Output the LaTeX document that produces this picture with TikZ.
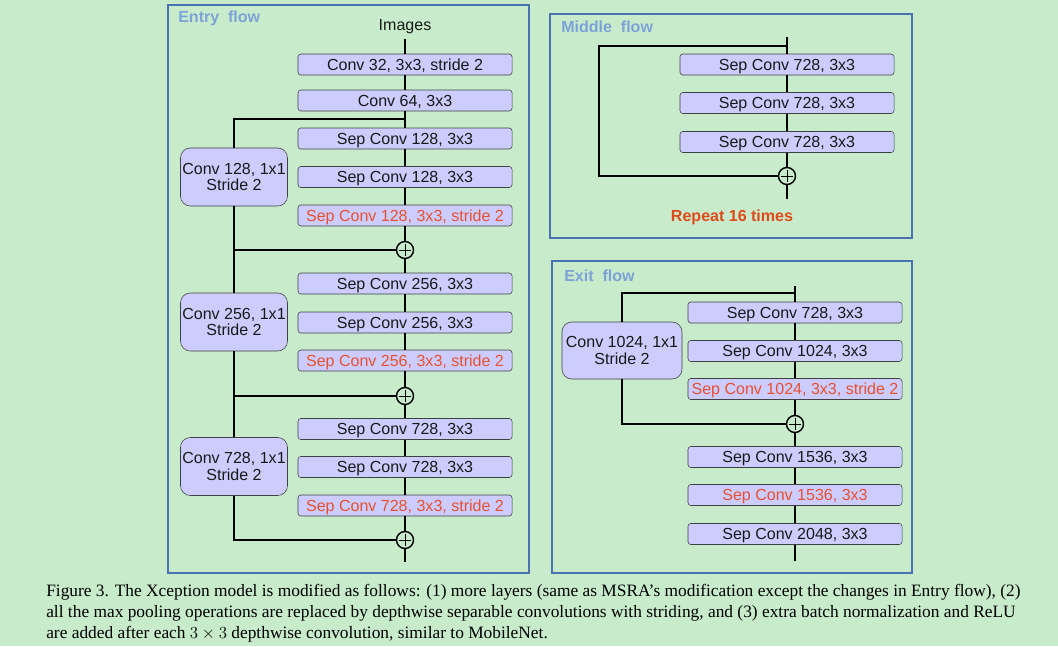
\documentclass[tikz,border=0pt]{standalone}
\usepackage{fontspec}
\setmainfont{Liberation Sans}
\newfontfamily\capfont{Liberation Serif}
\usetikzlibrary{positioning}
\definecolor{bg}{HTML}{C8ECCB}
\definecolor{layerfill}{HTML}{CCCCFF}
\definecolor{framecol}{HTML}{4A72AF}
\definecolor{titlecol}{HTML}{7CA2D8}
\definecolor{stridecol}{HTML}{E8502F}
\definecolor{repeatcol}{HTML}{E04A1A}
\tikzset{
  layer/.style={draw=black!75,fill=layerfill,rounded corners=2pt,minimum width=5.35cm,
    minimum height=0.525cm,inner sep=0pt,text height=8.2pt,text depth=0pt,
    text=black!90,font=\fontsize{11.4}{13}\selectfont},
  stridelayer/.style={layer,text=stridecol},
  skipbox/.style={draw=black!75,fill=layerfill,rounded corners=7pt,minimum width=2.675cm,
    minimum height=1.45cm,inner sep=0pt,align=center,text=black!90,font=\fontsize{11.4}{11.6}\selectfont},
  addnode/.style={draw,circle,line width=1pt,minimum size=0.425cm,inner sep=0pt,
    path picture={
      \draw[line width=0.7pt] ([xshift=-0.14cm]path picture bounding box.center) -- ([xshift=0.14cm]path picture bounding box.center);
      \draw[line width=0.7pt] ([yshift=-0.14cm]path picture bounding box.center) -- ([yshift=0.14cm]path picture bounding box.center);}},
  flow/.style={draw=framecol,line width=1.2pt},
  flowtitle/.style={anchor=base west,inner sep=0pt,text=titlecol,font=\bfseries\fontsize{11.4}{13}\selectfont},
  link/.style={line width=1.2pt},
  caption/.style={anchor=base west,inner sep=0pt,font=\capfont\fontsize{12.35}{14.9}\selectfont}
}
\begin{document}
\begin{tikzpicture}[x=0.025cm,y=-0.025cm]
  \fill[bg] (0,0) rectangle (1058,646);

  % three flows
  \draw[flow] (168,5) rectangle (529,573);
  \draw[flow] (550,14) rectangle (912,238);
  \draw[flow] (552,261) rectangle (912,573);
  \node[flowtitle] (entry) at (178,22) {Entry\ \ flow};
  \node[flowtitle] (middle) at (561,32) {Middle\ \ flow};
  \node[flowtitle] (exit) at (564,281) {Exit\ \ flow};

  % entry flow
  \node[text=black!90,font=\fontsize{11.4}{13}\selectfont] (img) at (405,27) {Images};
  \node[layer] (e1) at (405,64.5) {Conv 32, 3x3, stride 2};
  \node[layer] (e2) at (405,100.5) {Conv 64, 3x3};
  \node[layer] (e3) at (405,138.5) {Sep Conv 128, 3x3};
  \node[layer] (e4) at (405,177) {Sep Conv 128, 3x3};
  \node[stridelayer] (e5) at (405,215.5) {Sep Conv 128, 3x3, stride 2};
  \node[addnode] (a1) at (405,250) {};
  \node[layer] (e6) at (405,283.5) {Sep Conv 256, 3x3};
  \node[layer] (e7) at (405,322.5) {Sep Conv 256, 3x3};
  \node[stridelayer] (e8) at (405,360.5) {Sep Conv 256, 3x3, stride 2};
  \node[addnode] (a2) at (405,396) {};
  \node[layer] (e9) at (405,429) {Sep Conv 728, 3x3};
  \node[layer] (e10) at (405,467) {Sep Conv 728, 3x3};
  \node[stridelayer] (e11) at (405,505.5) {Sep Conv 728, 3x3, stride 2};
  \node[addnode] (a3) at (405,540) {};
  \coordinate (eout) at (405,562);
  \coordinate (esplit) at (405,119);

  \node[skipbox] (s1) at (234,177) {Conv 128, 1x1\\Stride 2};
  \node[skipbox] (s2) at (234,322) {Conv 256, 1x1\\Stride 2};
  \node[skipbox] (s3) at (234,466.5) {Conv 728, 1x1\\Stride 2};

  \draw[link] (img) -- (e1) -- (e2) -- (e3) -- (e4) -- (e5) -- (a1) -- (e6) -- (e7) -- (e8)
    -- (a2) -- (e9) -- (e10) -- (e11) -- (a3) -- (eout);
  \draw[link] (esplit) -| (s1);
  \draw[link] (s1) |- (a1);
  \draw[link] (s1) -- (s2);
  \draw[link] (s2) |- (a2);
  \draw[link] (s2) -- (s3);
  \draw[link] (s3) |- (a3);

  % middle flow
  \coordinate (mtop) at (787,37);
  \coordinate (msplit) at (787,46);
  \coordinate (mleft) at (599,46);
  \node[layer] (m1) at (787,64.5) {Sep Conv 728, 3x3};
  \node[layer] (m2) at (787,103) {Sep Conv 728, 3x3};
  \node[layer] (m3) at (787,142) {Sep Conv 728, 3x3};
  \node[addnode] (ma) at (787,176) {};
  \coordinate (mout) at (787,199);
  \node[text=repeatcol,font=\bfseries\fontsize{11.4}{13}\selectfont] (rep) at (732,217) {Repeat 16 times};

  \draw[link] (mtop) -- (m1) -- (m2) -- (m3) -- (ma) -- (mout);
  \draw[link] (msplit) -- (mleft) |- (ma);

  % exit flow
  \coordinate (xtop) at (795,286);
  \coordinate (xsplit) at (795,293);
  \node[layer] (x1) at (795,312.5) {Sep Conv 728, 3x3};
  \node[layer] (x2) at (795,351) {Sep Conv 1024, 3x3};
  \node[stridelayer] (x3) at (795,389) {Sep Conv 1024, 3x3, stride 2};
  \node[addnode] (xa) at (795,424) {};
  \node[layer] (x4) at (795,457) {Sep Conv 1536, 3x3};
  \node[stridelayer] (x5) at (795,495) {Sep Conv 1536, 3x3};
  \node[layer] (x6) at (795,534) {Sep Conv 2048, 3x3};
  \coordinate (xout) at (795,561);
  \node[skipbox,minimum width=3cm,minimum height=1.425cm] (xs) at (622,350.5) {Conv 1024, 1x1\\Stride 2};

  \draw[link] (xtop) -- (x1) -- (x2) -- (x3) -- (xa) -- (x4) -- (x5) -- (x6) -- (xout);
  \draw[link] (xsplit) -| (xs);
  \draw[link] (xs) |- (xa);

  % caption
  \node[caption] (cap1) at (46,596) {Figure 3. The Xception model is modified as follows: (1) more layers (same as MSRA’s modification except the changes in Entry flow), (2)};
  \node[caption] (cap2) at (46,617.5) {all the max pooling operations are replaced by depthwise separable convolutions with striding, and (3) extra batch normalization and ReLU};
  \node[caption] (cap3) at (46,638) {are added after each $3\times3$ depthwise convolution, similar to MobileNet.};
\end{tikzpicture}
\end{document}
